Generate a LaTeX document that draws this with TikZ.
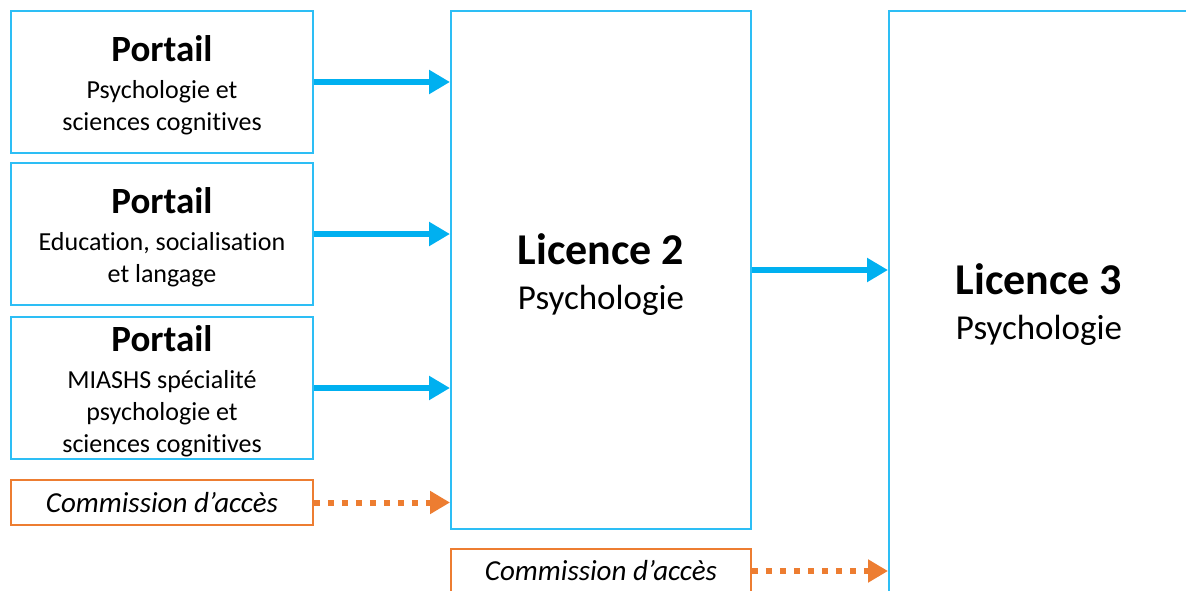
\documentclass[tikz,border=0pt]{standalone}
\usepackage{fontspec}
\setmainfont{Carlito}[Ligatures=NoCommon]
\usepackage{xcolor}
\usetikzlibrary{arrows.meta}
\definecolor{cadre}{RGB}{45,190,245}
\definecolor{fleche}{RGB}{0,176,240}
\definecolor{orangeacces}{RGB}{237,125,49}
\newcommand{\pleine}{-{Triangle[length=21pt,width=23pt]}}
\newcommand{\pointillee}{-{Triangle[length=20pt,width=22pt]}}
\newcommand{\titreportail}{{\fontsize{37}{40}\selectfont\bfseries\rule{0pt}{33pt}Portail}\\[5pt]}
\tikzset{
	boite/.style={draw=cadre,line width=2pt,inner sep=0pt,align=center,font=\fontsize{26}{32}\selectfont},
	licence/.style={boite,minimum width=300pt,font=\fontsize{35}{43}\selectfont},
	acces/.style={draw=orangeacces,line width=1.5pt,inner sep=0pt,minimum width=302pt,font=\fontsize{29}{34}\selectfont\itshape},
	lien/.style={fleche,line width=6pt},
	lienacces/.style={orangeacces,line width=6pt,dash pattern=on 6pt off 8pt},
}

\begin{document}
\begin{tikzpicture}[x=1pt,y=-1pt]
		\useasboundingbox (0,0) rectangle (1186,591);
		% portails d'entree
		\node[boite,minimum width=302pt,minimum height=142pt] (p1) at (162,82) {\titreportail Psychologie et\\sciences cognitives};
		\node[boite,minimum width=302pt,minimum height=142pt] (p2) at (162,234) {\titreportail Education, socialisation\\et langage};
		\node[boite,minimum width=302pt,minimum height=142pt] (p3) at (162,388) {\titreportail MIASHS spécialité\\psychologie et\\sciences cognitives};
		\node[acces,minimum height=45pt] (c1) at (162,502.5) {Commission d’accès};
		% licences
		\node[licence,minimum height=518pt] (l2) at (601,270) {{\fontsize{44}{48}\selectfont\bfseries\rule{0pt}{40pt}Licence 2}\\[2pt]Psychologie};
		\node[acces,minimum width=300pt,minimum height=44pt] (c2) at (601,571) {Commission d’accès};
		\node[licence,minimum height=588pt] (l3) at (1039,305) {{\fontsize{44}{48}\selectfont\bfseries Licence 3}\\[2pt]Psychologie};
		% fleches
		\draw[lien,\pleine] (p1.east) -- (p1.east -| l2.west);
		\draw[lien,\pleine] (p2.east) -- (p2.east -| l2.west);
		\draw[lien,\pleine] (p3.east) -- (p3.east -| l2.west);
		\draw[lien,\pleine] (l2.east) -- (l2.east -| l3.west);
		\draw[lienacces,\pointillee] (c1.east) -- (c1.east -| l2.west);
		\draw[lienacces,\pointillee] (c2.east) -- (c2.east -| l3.west);
\end{tikzpicture}
\end{document}
